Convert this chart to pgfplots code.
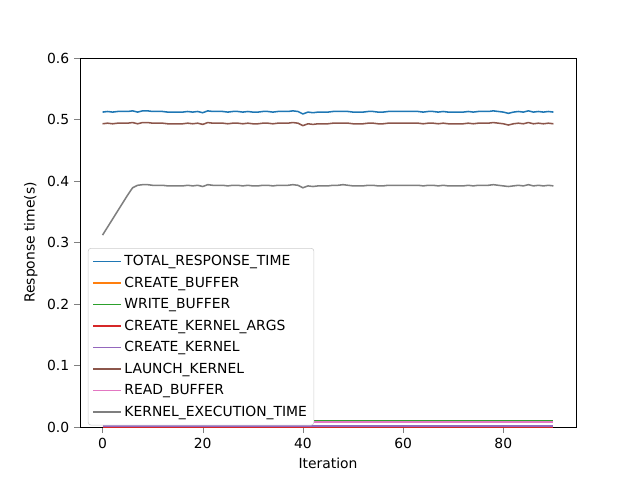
\documentclass[border=0pt]{standalone}
\usepackage{pgfplots}
\pgfplotsset{compat=1.18}
\usepackage{pgfplotstable}
\usepackage{fontspec}
\setmainfont{DejaVu Sans}
\pgfplotstableread{
x total launch kexec
0 0.512 0.493 0.312
1 0.513 0.494 0.325
2 0.512 0.493 0.338
3 0.513 0.494 0.351
4 0.513 0.494 0.364
5 0.513 0.494 0.377
6 0.514 0.495 0.389
7 0.512 0.493 0.393
8 0.514 0.495 0.394
9 0.514 0.495 0.394
10 0.513 0.494 0.393
11 0.513 0.494 0.393
12 0.513 0.494 0.393
13 0.512 0.493 0.392
14 0.512 0.493 0.392
15 0.512 0.493 0.392
16 0.512 0.493 0.392
17 0.513 0.494 0.393
18 0.512 0.493 0.392
19 0.513 0.494 0.393
20 0.511 0.492 0.391
21 0.514 0.495 0.394
22 0.513 0.494 0.393
23 0.513 0.494 0.393
24 0.513 0.494 0.393
25 0.512 0.493 0.392
26 0.513 0.494 0.393
27 0.513 0.494 0.393
28 0.512 0.493 0.392
29 0.513 0.494 0.393
30 0.512 0.493 0.392
31 0.512 0.493 0.392
32 0.513 0.494 0.393
33 0.513 0.494 0.393
34 0.512 0.493 0.392
35 0.513 0.494 0.393
36 0.513 0.494 0.393
37 0.513 0.494 0.393
38 0.514 0.495 0.394
39 0.513 0.494 0.393
40 0.509 0.490 0.389
41 0.512 0.493 0.392
42 0.511 0.492 0.391
43 0.512 0.493 0.392
44 0.512 0.493 0.392
45 0.512 0.493 0.392
46 0.513 0.494 0.393
47 0.513 0.494 0.393
48 0.513 0.494 0.394
49 0.513 0.494 0.393
50 0.512 0.493 0.392
51 0.512 0.493 0.392
52 0.512 0.493 0.392
53 0.513 0.494 0.393
54 0.513 0.494 0.393
55 0.512 0.493 0.392
56 0.512 0.493 0.392
57 0.513 0.494 0.393
58 0.513 0.494 0.393
59 0.513 0.494 0.393
60 0.513 0.494 0.393
61 0.513 0.494 0.393
62 0.513 0.494 0.393
63 0.513 0.494 0.393
64 0.512 0.493 0.392
65 0.513 0.494 0.393
66 0.513 0.494 0.393
67 0.512 0.493 0.392
68 0.513 0.494 0.393
69 0.512 0.493 0.392
70 0.512 0.493 0.392
71 0.512 0.493 0.392
72 0.512 0.493 0.392
73 0.513 0.494 0.393
74 0.512 0.493 0.392
75 0.513 0.494 0.393
76 0.513 0.494 0.393
77 0.513 0.494 0.393
78 0.514 0.495 0.394
79 0.513 0.494 0.393
80 0.512 0.493 0.392
81 0.510 0.491 0.391
82 0.512 0.493 0.392
83 0.513 0.494 0.393
84 0.512 0.493 0.392
85 0.514 0.495 0.394
86 0.512 0.493 0.392
87 0.513 0.494 0.393
88 0.512 0.493 0.392
89 0.513 0.494 0.393
90 0.512 0.493 0.392
}\data
\definecolor{c0}{HTML}{1F77B4}
\definecolor{c1}{HTML}{FF7F0E}
\definecolor{c2}{HTML}{2CA02C}
\definecolor{c3}{HTML}{D62728}
\definecolor{c4}{HTML}{9467BD}
\definecolor{c5}{HTML}{8C564B}
\definecolor{c6}{HTML}{E377C2}
\definecolor{c7}{HTML}{7F7F7F}
\begin{document}
\begin{tikzpicture}
\useasboundingbox (-57.6pt,-38.16pt) rectangle (403.2pt,307.44pt);
\begin{axis}[
  at={(0,0)}, anchor=south west,
  scale only axis, width=357.1pt, height=265.7pt,
  xmin=-4.5, xmax=94.5, ymin=0, ymax=0.6,
  xtick={0,20,40,60,80}, ytick={0,0.1,0.2,0.3,0.4,0.5,0.6},
  yticklabel style={/pgf/number format/fixed,/pgf/number format/precision=1,/pgf/number format/fixed zerofill},
  /pgf/number format/assume math mode=true,
  tick label style={font=\fontsize{10}{12}\selectfont},
  label style={font=\fontsize{10}{12}\selectfont},
  tick align=outside, tick pos=left,
  xlabel={Iteration}, ylabel={Response time(s)},
  legend style={at={(0.016,0.485)}, anchor=north west, font=\fontsize{10}{12}\selectfont, draw=black!20, rounded corners=2pt, row sep=2.6pt, inner sep=3pt},
  legend cell align=left,
  legend image code/.code={\draw[#1, line width=1.1pt] (0pt,0pt) -- (20pt,0pt);},
]
\addplot[c0, line width=1.1pt] table[x=x,y=total]{\data};
\addlegendentry{TOTAL\_RESPONSE\_TIME}
\addplot[c1, line width=1.1pt] coordinates {(0,0.0005) (90,0.0005)};
\addlegendentry{CREATE\_BUFFER}
\addplot[c2, line width=1.1pt] coordinates {(0,0.0106) (90,0.0106)};
\addlegendentry{WRITE\_BUFFER}
\addplot[c3, line width=1.1pt] coordinates {(0,0.0004) (90,0.0004)};
\addlegendentry{CREATE\_KERNEL\_ARGS}
\addplot[c4, line width=1.1pt] coordinates {(0,0.0015) (90,0.0015)};
\addlegendentry{CREATE\_KERNEL}
\addplot[c5, line width=1.1pt] table[x=x,y=launch]{\data};
\addlegendentry{LAUNCH\_KERNEL}
\addplot[c6, line width=1.1pt] coordinates {(0,0.0085) (90,0.0085)};
\addlegendentry{READ\_BUFFER}
\addplot[c7, line width=1.1pt] table[x=x,y=kexec]{\data};
\addlegendentry{KERNEL\_EXECUTION\_TIME}
\end{axis}
\end{tikzpicture}
\end{document}
